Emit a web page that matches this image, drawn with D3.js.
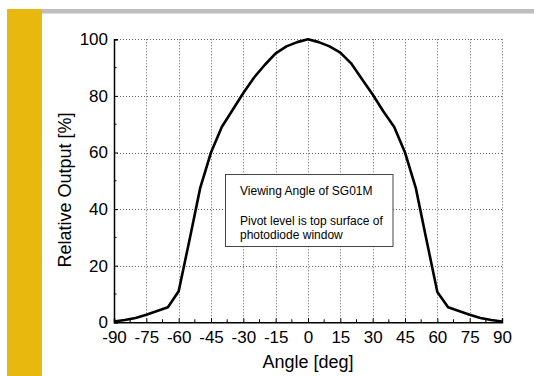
<!DOCTYPE html>
<html>
<head>
<meta charset="utf-8">
<script src="https://cdn.jsdelivr.net/npm/d3@7/dist/d3.min.js"></script>
<style>
html,body{margin:0;padding:0;background:#fff;}
svg{display:block;font-family:"Liberation Sans",Arial,sans-serif;}
</style>
</head>
<body>
<svg id="chart" width="534" height="376"></svg>
<script>
const angles = [-90,-85,-80,-75,-70,-65,-60,-55,-50,-45,-40,-35,-30,-25,-20,-15,-10,-5,0,5,10,15,20,25,30,35,40,45,50,55,60,65,70,75,80,85,90];
const output = [0.3,0.8,1.5,2.7,4.0,5.3,11,29,47.5,60,69,75,81,86.5,91,95,97.5,99,100,99,97.5,95.3,91.5,86,80.5,74.5,69,60,47.5,29,10.7,5.3,4.0,2.7,1.5,0.8,0.3];
const xTicks = [-90,-75,-60,-45,-30,-15,0,15,30,45,60,75,90];
const yTicks = [0,20,40,60,80,100];
const xMinor = [-82.5,-67.5,-52.5,-37.5,-22.5,-7.5,7.5,22.5,37.5,52.5,67.5,82.5];
const yMinor = [10,30,50,70,90];
const xTitle = "Angle [deg]";
const yTitle = "Relative Output [%]";
const noteLines = ["Viewing Angle of SG01M", "", "Pivot level is top surface of", "photodiode window"];

const svg = d3.select("#chart");
// decorative slide elements
svg.append("rect").attr("x",7).attr("y",9).attr("width",35).attr("height",367).attr("fill","#E9B80E");
svg.append("rect").attr("x",42).attr("y",9).attr("width",492).attr("height",4.5).attr("fill","#BEBEBE");

const x = d3.scaleLinear().domain([-90,90]).range([114,502]);
const y = d3.scaleLinear().domain([0,100]).range([322.3,39.3]);

// grid
const grid = svg.append("g").attr("stroke","#666").attr("stroke-width",1).attr("stroke-dasharray","1,2").attr("fill","none");
grid.selectAll("line.vx").data(xTicks.filter(d=>d>-90)).join("line")
  .attr("x1",d=>Math.round(x(d))+0.5).attr("x2",d=>Math.round(x(d))+0.5)
  .attr("y1",y(0)).attr("y2",y(100));
grid.selectAll("line.hy").data(yTicks.filter(d=>d>0)).join("line")
  .attr("x1",x(-90)).attr("x2",x(90))
  .attr("y1",d=>Math.round(y(d))+0.5).attr("y2",d=>Math.round(y(d))+0.5);

// axes
const xAxis = svg.append("g").attr("transform",`translate(0,${y(0)})`)
  .call(d3.axisBottom(x).tickValues(xTicks).tickSize(-4).tickPadding(9).tickFormat(d3.format("d")));
xAxis.selectAll(".tick line").attr("stroke","#000");
xAxis.select(".domain").attr("stroke","#000").attr("stroke-width",1.5);
xAxis.selectAll("text").attr("font-size",17).attr("fill","#000").attr("font-family","Liberation Sans, Arial, sans-serif")
  .text(d=>d<0?"-"+Math.abs(d):d);
xAxis.append("g").selectAll("line").data(xMinor).join("line")
  .attr("x1",d=>x(d)).attr("x2",d=>x(d)).attr("y1",0).attr("y2",-3).attr("stroke","#000");

const yAxis = svg.append("g").attr("transform",`translate(${x(-90)},0)`)
  .call(d3.axisLeft(y).tickValues(yTicks).tickSize(-4).tickPadding(6).tickFormat(d3.format("d")));
yAxis.selectAll(".tick line").attr("stroke","#000");
yAxis.select(".domain").attr("stroke","#000").attr("stroke-width",1.5);
yAxis.selectAll("text").attr("font-size",17).attr("fill","#000").attr("font-family","Liberation Sans, Arial, sans-serif");
yAxis.append("g").selectAll("line").data(yMinor).join("line")
  .attr("x1",0).attr("x2",2.5).attr("y1",d=>y(d)).attr("y2",d=>y(d)).attr("stroke","#000");

// curve
const line = d3.line().x((d,i)=>x(angles[i])).y(d=>y(d));
svg.append("path").datum(output).attr("d",line).attr("fill","none").attr("stroke","#000")
  .attr("stroke-width",2.6).attr("stroke-linejoin","round");

// titles
svg.append("text").attr("x",308).attr("y",368).attr("text-anchor","middle").attr("font-size",18).attr("fill","#000").text(xTitle);
svg.append("text").attr("transform","translate(71,190) rotate(-90)").attr("text-anchor","middle").attr("font-size",18).attr("fill","#000").text(yTitle);

// annotation box
svg.append("rect").attr("x",225.5).attr("y",174.5).attr("width",167.5).attr("height",72).attr("fill","#fff").attr("stroke","#444").attr("stroke-width",1);
const nt = svg.append("text").attr("font-size",12).attr("fill","#000");
noteLines.forEach((t,i)=>{
  nt.append("tspan").attr("x",240).attr("y",[194.5,209,224.5,239][i]).text(t);
});
</script>
</body>
</html>
